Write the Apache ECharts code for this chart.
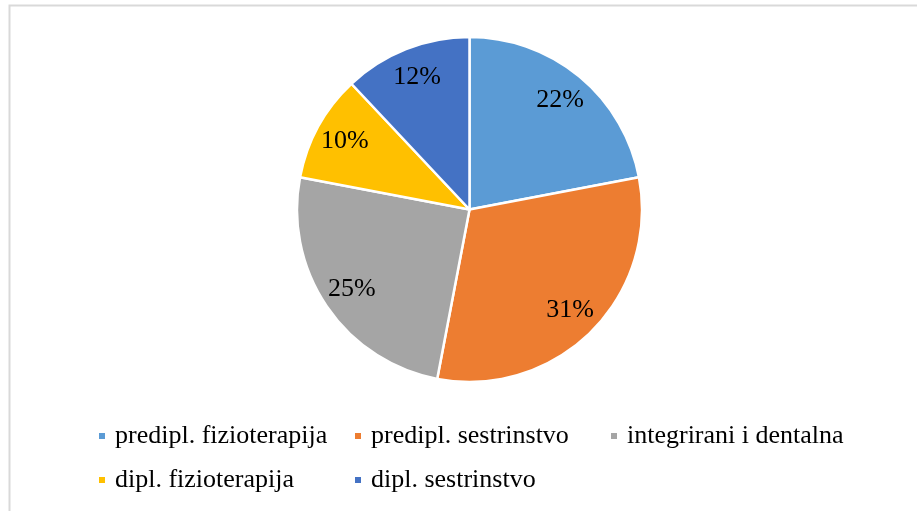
<!DOCTYPE html>
<html>
<head>
<meta charset="utf-8">
<script src="https://cdn.jsdelivr.net/npm/echarts@6/dist/echarts.min.js"></script>
<style>
  html, body { margin: 0; padding: 0; background: #fff; }
  #chart { width: 917px; height: 511px; }
</style>
</head>
<body>
<div id="chart"></div>
<script>
// kategorije i udjeli (%)
var categories = [
  "predipl. fizioterapija",
  "predipl. sestrinstvo",
  "integrirani i dentalna",
  "dipl. fizioterapija",
  "dipl. sestrinstvo"
];
var values = [22, 31, 25, 10, 12];
var colors = ["#5B9BD5", "#ED7D31", "#A5A5A5", "#FFC000", "#4472C4"];

var pieData = categories.map(function (name, i) {
  return { name: name, value: values[i] };
});

var myChart = echarts.init(document.getElementById("chart"));
var option = {
  animation: false,
  color: colors,
  graphic: [
    {
      type: "rect",
      shape: { x: 9.5, y: 5.5, width: 1000, height: 1000 },
      style: { fill: "none", stroke: "#d9d9d9", lineWidth: 2 },
      silent: true
    }
  ],
  legend: {
    data: categories,
    left: 97,
    top: 414,
    width: 775,
    padding: 0,
    itemGap: 0,
    itemWidth: 8,
    itemHeight: 8,
    icon: "rect",
    textStyle: {
      fontFamily: "Liberation Serif",
      fontSize: 26,
      color: "#000",
      lineHeight: 44,
      width: 238,
      padding: [0, 0, 0, 4]
    }
  },
  series: [
    {
      name: "udio",
      type: "pie",
      center: [469.5, 209.5],
      radius: [0, 172.5],
      startAngle: 90,
      clockwise: true,
      percentPrecision: 0,
      data: pieData,
      label: { show: false },
      labelLine: { show: false },
      itemStyle: { borderColor: "#fff", borderWidth: 2.5 }
    },
    {
      // nevidljivi prsten samo za položaj oznaka postotaka
      name: "oznake",
      type: "pie",
      silent: true,
      center: [469.5, 209.5],
      radius: [106, 172.5],
      startAngle: 90,
      clockwise: true,
      percentPrecision: 0,
      data: pieData,
      itemStyle: { color: "rgba(0,0,0,0)" },
      label: {
        show: true,
        position: "inside",
        formatter: "{d}%",
        fontFamily: "Liberation Serif",
        fontSize: 26,
        color: "#000"
      },
      labelLine: { show: false }
    }
  ]
};
myChart.setOption(option);
</script>
</body>
</html>
